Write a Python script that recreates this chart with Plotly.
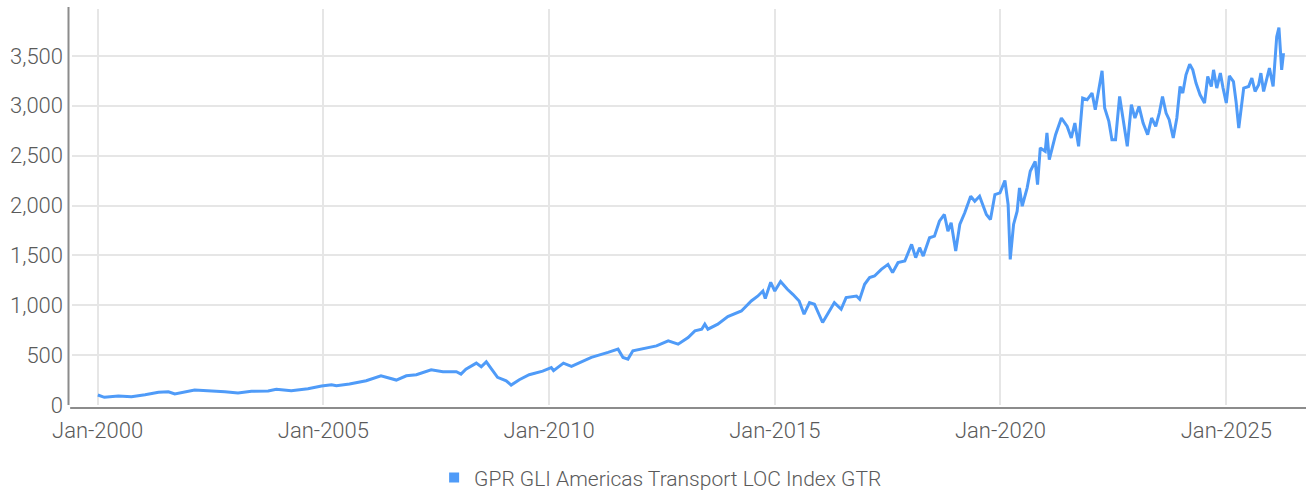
import plotly.graph_objects as go

series_name = "GPR GLI Americas Transport LOC Index GTR"

dates = [
    "2000-01-03", "2000-02-25", "2000-06-17", "2000-10-01", "2001-01-19", "2001-05-08",
    "2001-07-27", "2001-09-17", "2002-02-24", "2002-06-14", "2002-10-27", "2003-02-10",
    "2003-05-30", "2003-10-12", "2003-12-17", "2004-04-16", "2004-08-29", "2004-12-17",
    "2005-03-08", "2005-04-16", "2005-07-31", "2005-12-13", "2006-04-12", "2006-08-14",
    "2006-11-03", "2007-01-23", "2007-05-23", "2007-08-26", "2007-12-13", "2008-01-19",
    "2008-02-28", "2008-05-22", "2008-07-01", "2008-08-11", "2008-09-20", "2008-11-10",
    "2009-01-19", "2009-02-28", "2009-05-05", "2009-07-24", "2009-11-10", "2010-01-19",
    "2010-02-06", "2010-04-27", "2010-07-01", "2010-08-25", "2010-12-09", "2011-04-23",
    "2011-07-13", "2011-08-22", "2011-10-01", "2011-11-10", "2012-03-14", "2012-05-19",
    "2012-08-22", "2012-11-10", "2013-01-30", "2013-03-26", "2013-05-20", "2013-06-14",
    "2013-07-09", "2013-09-27", "2013-12-17", "2014-04-06", "2014-06-25", "2014-08-18",
    "2014-09-27", "2014-10-16", "2014-11-29", "2015-01-01", "2015-02-17", "2015-04-13",
    "2015-05-27", "2015-07-17", "2015-08-26", "2015-10-09", "2015-11-18", "2015-12-21",
    "2016-01-23", "2016-03-18", "2016-04-27", "2016-06-21", "2016-07-31", "2016-10-23",
    "2016-11-18", "2016-12-28", "2017-02-06", "2017-03-18", "2017-05-12", "2017-07-05",
    "2017-08-11", "2017-09-24", "2017-11-18", "2018-01-12", "2018-02-14", "2018-03-18",
    "2018-04-16", "2018-06-06", "2018-07-16", "2018-08-25", "2018-10-04", "2018-11-02",
    "2018-11-28", "2019-01-04", "2019-02-06", "2019-03-18", "2019-05-05", "2019-06-07",
    "2019-07-16", "2019-09-09", "2019-10-12", "2019-11-17", "2019-12-28", "2020-02-06",
    "2020-03-03", "2020-03-20", "2020-04-16", "2020-05-15", "2020-06-03", "2020-06-25",
    "2020-08-04", "2020-08-29", "2020-10-08", "2020-10-27", "2020-11-18", "2020-12-28",
    "2021-01-11", "2021-01-30", "2021-03-22", "2021-05-08", "2021-06-24", "2021-07-27",
    "2021-08-25", "2021-09-24", "2021-10-27", "2021-12-02", "2022-01-11", "2022-02-06",
    "2022-03-11", "2022-04-02", "2022-04-23", "2022-05-27", "2022-06-21", "2022-07-20",
    "2022-08-22", "2022-09-24", "2022-10-23", "2022-11-25", "2022-12-24", "2023-01-26",
    "2023-02-28", "2023-04-06", "2023-05-08", "2023-06-10", "2023-07-09", "2023-08-04",
    "2023-09-02", "2023-09-27", "2023-10-30", "2023-11-28", "2023-12-24", "2024-01-15",
    "2024-02-10", "2024-03-11", "2024-04-05", "2024-05-01", "2024-06-03", "2024-07-09",
    "2024-08-04", "2024-09-02", "2024-09-20", "2024-10-16", "2024-11-14", "2024-12-06",
    "2025-01-01", "2025-01-26", "2025-02-28", "2025-03-21", "2025-04-12", "2025-05-22",
    "2025-07-01", "2025-07-27", "2025-08-22", "2025-09-20", "2025-10-08", "2025-10-30",
    "2025-11-24", "2025-12-16", "2026-01-15", "2026-02-02", "2026-02-13", "2026-03-03",
    "2026-03-14", "2026-03-25", "2026-04-09",
]

values = [
    100, 77, 90, 83, 103, 127,
    133, 110, 150, 143, 133, 120,
    137, 140, 157, 143, 163, 190,
    203, 193, 210, 243, 293, 250,
    293, 303, 353, 333, 333, 310,
    360, 420, 383, 433, 360, 277,
    243, 200, 253, 303, 340, 375,
    345, 420, 387, 420, 477, 527,
    560, 477, 460, 543, 577, 593,
    643, 610, 677, 743, 760, 810,
    760, 810, 887, 943, 1043, 1093,
    1143, 1067, 1230, 1143, 1238, 1160,
    1110, 1043, 910, 1027, 1010, 910,
    827, 943, 1027, 960, 1077, 1093,
    1060, 1210, 1277, 1293, 1360, 1410,
    1327, 1427, 1443, 1610, 1477, 1577,
    1493, 1677, 1693, 1843, 1910, 1743,
    1827, 1543, 1810, 1927, 2093, 2043,
    2093, 1910, 1860, 2110, 2127, 2250,
    2010, 1460, 1810, 1943, 2177, 1993,
    2177, 2343, 2443, 2210, 2577, 2543,
    2727, 2460, 2710, 2877, 2793, 2677,
    2827, 2593, 3077, 3060, 3127, 2960,
    3193, 3350, 2977, 2843, 2660, 2660,
    3093, 2827, 2593, 3010, 2877, 2993,
    2827, 2710, 2877, 2793, 2927, 3093,
    2927, 2860, 2677, 2877, 3193, 3127,
    3310, 3417, 3360, 3227, 3110, 3027,
    3293, 3193, 3360, 3177, 3327, 3177,
    3027, 3300, 3243, 3043, 2777, 3177,
    3193, 3277, 3143, 3210, 3327, 3143,
    3277, 3377, 3193, 3577, 3693, 3783,
    3577, 3360, 3527,
]

x_tick_values = ["2000-01-01", "2005-01-01", "2010-01-01", "2015-01-01", "2020-01-01", "2025-01-01"]
x_tick_labels = ["Jan-2000", "Jan-2005", "Jan-2010", "Jan-2015", "Jan-2020", "Jan-2025"]
y_tick_values = [0, 500, 1000, 1500, 2000, 2500, 3000, 3500]

LINE_COLOR = "#4f9bf8"
TEXT_COLOR = "#5a5a5a"
GRID_COLOR = "#e6e6e6"
AXIS_COLOR = "#8c8c8c"
FONT = "Roboto, 'Open Sans', sans-serif"

fig = go.Figure()
fig.add_trace(go.Scatter(
    x=dates, y=values, mode="lines", name=series_name,
    line=dict(color=LINE_COLOR, width=3), showlegend=False,
))
# legend entry (square swatch)
fig.add_trace(go.Scatter(
    x=[None], y=[None], mode="markers", name=series_name,
    marker=dict(symbol="square", size=10, color=LINE_COLOR),
    showlegend=True,
))

fig.update_layout(
    width=1306, height=493,
    margin=dict(l=72, r=0, t=9, b=88, autoexpand=False),
    paper_bgcolor="white", plot_bgcolor="white",
    font=dict(family=FONT, size=22, color=TEXT_COLOR, weight=300),
    legend=dict(
        orientation="h", xref="paper", yref="paper",
        x=0.477, xanchor="center", y=-0.184, yanchor="middle",
        font=dict(family=FONT, size=21, color=TEXT_COLOR, weight=300),
        itemwidth=30, bgcolor="rgba(0,0,0,0)",
    ),
    xaxis=dict(
        type="date", range=["1999-06-08", "2026-10-08"],
        tickvals=x_tick_values, ticktext=x_tick_labels,
        showgrid=True, gridcolor=GRID_COLOR, gridwidth=2,
        showline=False, zeroline=False, ticks="",
        ticklabelstandoff=10, automargin=False,
    ),
    yaxis=dict(
        range=[0, 3970], tickvals=y_tick_values, tickformat=",",
        showgrid=True, gridcolor=GRID_COLOR, gridwidth=2,
        showline=False, zeroline=False, ticks="",
        ticklabelstandoff=8, automargin=False,
    ),
    shapes=[
        dict(type="line", xref="paper", yref="paper",
             xsizemode="pixel", xanchor=0, x0=-3.5, x1=-3.5,
             ysizemode="pixel", yanchor=0, y0=0, y1=398,
             line=dict(color=AXIS_COLOR, width=2), layer="above"),
        dict(type="line", xref="paper", yref="paper",
             x0=-0.0015, x1=1,
             ysizemode="pixel", yanchor=0, y0=-3, y1=-3,
             line=dict(color=AXIS_COLOR, width=2), layer="above"),
    ],
)

fig.write_html(
    "out.html",
    config={"displayModeBar": False},
    post_script="document.body.style.margin='0';document.body.style.padding='0';document.body.style.overflow='hidden';",
)
